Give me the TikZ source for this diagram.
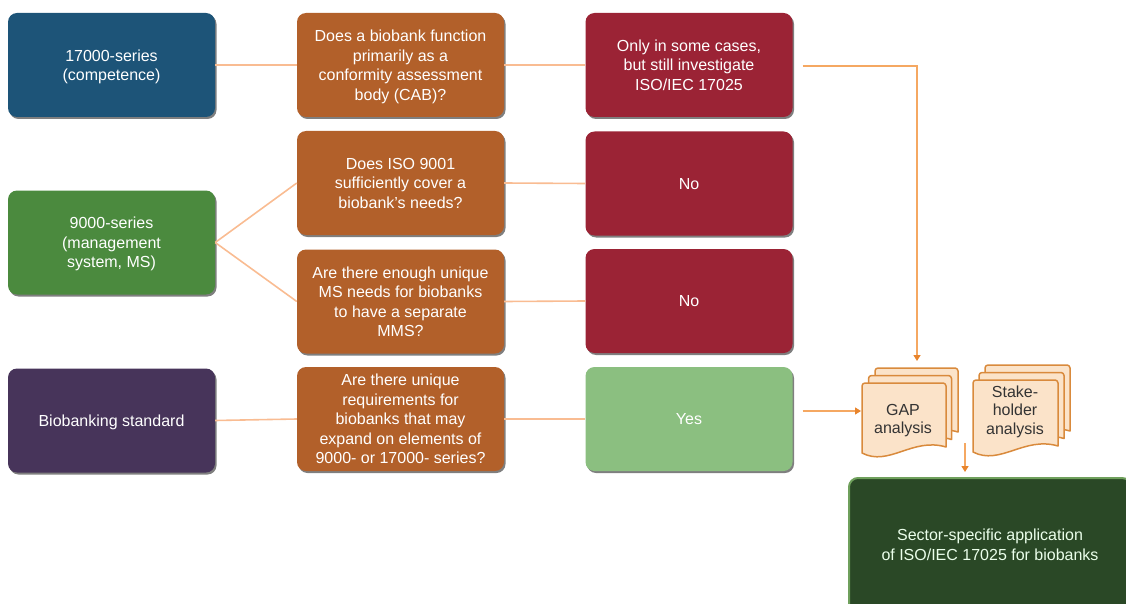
\documentclass[tikz,border=0pt]{standalone}
\usepackage{fontspec}
\setmainfont{Liberation Sans}
\usetikzlibrary{arrows.meta,shadows,calc}

\definecolor{cblue}{HTML}{1D5478}
\definecolor{corange}{HTML}{B2602A}
\definecolor{cred}{HTML}{9B2335}
\definecolor{cgreen}{HTML}{4B8A3E}
\definecolor{cpurple}{HTML}{47345A}
\definecolor{cyes}{HTML}{8BBF80}
\definecolor{cdark}{HTML}{2A4826}
\definecolor{cdarkrim}{HTML}{6FA05C}
\definecolor{cline}{HTML}{F9BC92}
\definecolor{carrow}{HTML}{F5A862}
\definecolor{ctip}{HTML}{E8842C}
\definecolor{cdocfill}{HTML}{FBE3C9}
\definecolor{cdocedge}{HTML}{D98A3C}
\definecolor{cdoctext}{HTML}{333333}

% one sheet of a document stack: top-left corner, width, height
\newcommand\docsheet[4]{%
  \path[docsheet] (#1,#2+#4)
    [rounded corners=3pt] -- (#1,#2) -- (#1+#3,#2) [sharp corners] -- (#1+#3,#2+#4-6)
    .. controls (#1+0.6*#3,#2+#4-16) and (#1+0.32*#3,#2+#4+14) .. (#1,#2+#4) -- cycle;}

\begin{document}
\begin{tikzpicture}[x=1pt,y=-1pt,
  box/.style={rounded corners=9pt, minimum width=207pt, minimum height=104pt,
    align=center, text=white, inner sep=2pt, text depth=0pt,
    font=\fontsize{16}{19.5}\selectfont,
    drop shadow={shadow xshift=1.5pt, shadow yshift=-2pt, opacity=0.5, fill=black}},
  conn/.style={draw=cline, line width=1.6pt},
  arr/.style={draw=carrow, line width=1.4pt, -{Triangle[width=7pt,length=6pt,color=ctip]}},
  docsheet/.style={fill=cdocfill, draw=cdocedge, line width=1.5pt, line join=round},
  doctext/.style={align=center, text=cdoctext, text depth=0pt, font=\fontsize{16}{18.5}\selectfont}]

\useasboundingbox (0,0) rectangle (1126,604);

% left column: standard families
\node[box, fill=cblue]   (s17)  at (111.5,65)  {17000-series\\(competence)};
\node[box, fill=cgreen]  (s9)   at (111.5,242.5) {9000-series\\(management\\system, MS)};
\node[box, fill=cpurple] (sbio) at (111.5,420.5) {Biobanking standard};

% middle column: questions
\node[box, fill=corange] (q1) at (400.5,65)    {Does a biobank function\\primarily as a\\conformity assessment\\body (CAB)?};
\node[box, fill=corange] (q2) at (400.5,183)   {Does ISO 9001\\sufficiently cover a\\biobank's needs?};
\node[box, fill=corange] (q3) at (400.5,301.5) {Are there enough unique\\MS needs for biobanks\\to have a separate\\MMS?};
\node[box, fill=corange] (q4) at (400.5,419)   {Are there unique\\requirements for\\biobanks that may\\expand on elements of\\9000- or 17000- series?};

% right column: answers
\node[box, fill=cred] (a1) at (689,65)    {Only in some cases,\\but still investigate\\ISO/IEC 17025};
\node[box, fill=cred] (a2) at (689,183.5) {No};
\node[box, fill=cred] (a3) at (689,301)   {No};
\node[box, fill=cyes] (a4) at (689,419)   {Yes};

% links between the columns
\draw[conn] (s17.east) -- (q1.west);
\draw[conn] (q1.east) -- (a1.west);
\draw[conn] (s9.east) -- (q2.west);
\draw[conn] (s9.east) -- (q3.west);
\draw[conn] (q2.east) -- (a2.west);
\draw[conn] (q3.east) -- (a3.west);
\draw[conn] (sbio.east) -- (q4.west);
\draw[conn] (q4.east) -- (a4.west);

% document stacks
\docsheet{875}{368}{83}{70}
\docsheet{868.5}{375.5}{83}{70}
\docsheet{862}{383}{84}{70}
\node[doctext] (gap) at (903,419) {GAP\\analysis};

\docsheet{985}{365}{85}{72}
\docsheet{979}{372.5}{85}{72}
\docsheet{973}{380}{85}{72}
\node[doctext] (stake) at (1015,410) {Stake-\\holder\\analysis};

% outcome
\begin{scope}
  \clip (0,0) rectangle (1126,604);
  \node[anchor=north west, rounded corners=9pt, fill=cdark, draw=cdarkrim, line width=2pt,
        minimum width=282pt, minimum height=134pt, align=center, text=white!92!green,
        font=\fontsize{16}{19.5}\selectfont] (out) at (848,477)
        {Sector-specific application\\of ISO/IEC 17025 for biobanks};
\end{scope}

% arrows into the analyses and on to the outcome
\coordinate (bend) at (917,66);
\coordinate (gaptop) at (917,361);
\coordinate (gapin) at (861,411);
\coordinate (stackout) at (965,443);
\coordinate (outin) at (965,472);
\draw[arr, shorten <=10pt] (a1.east |- bend) -- (bend) -- (gaptop);
\draw[arr, shorten <=10pt] (a4.east |- gapin) -- (gapin);
\draw[arr] (stackout) -- (outin);

\end{tikzpicture}
\end{document}
